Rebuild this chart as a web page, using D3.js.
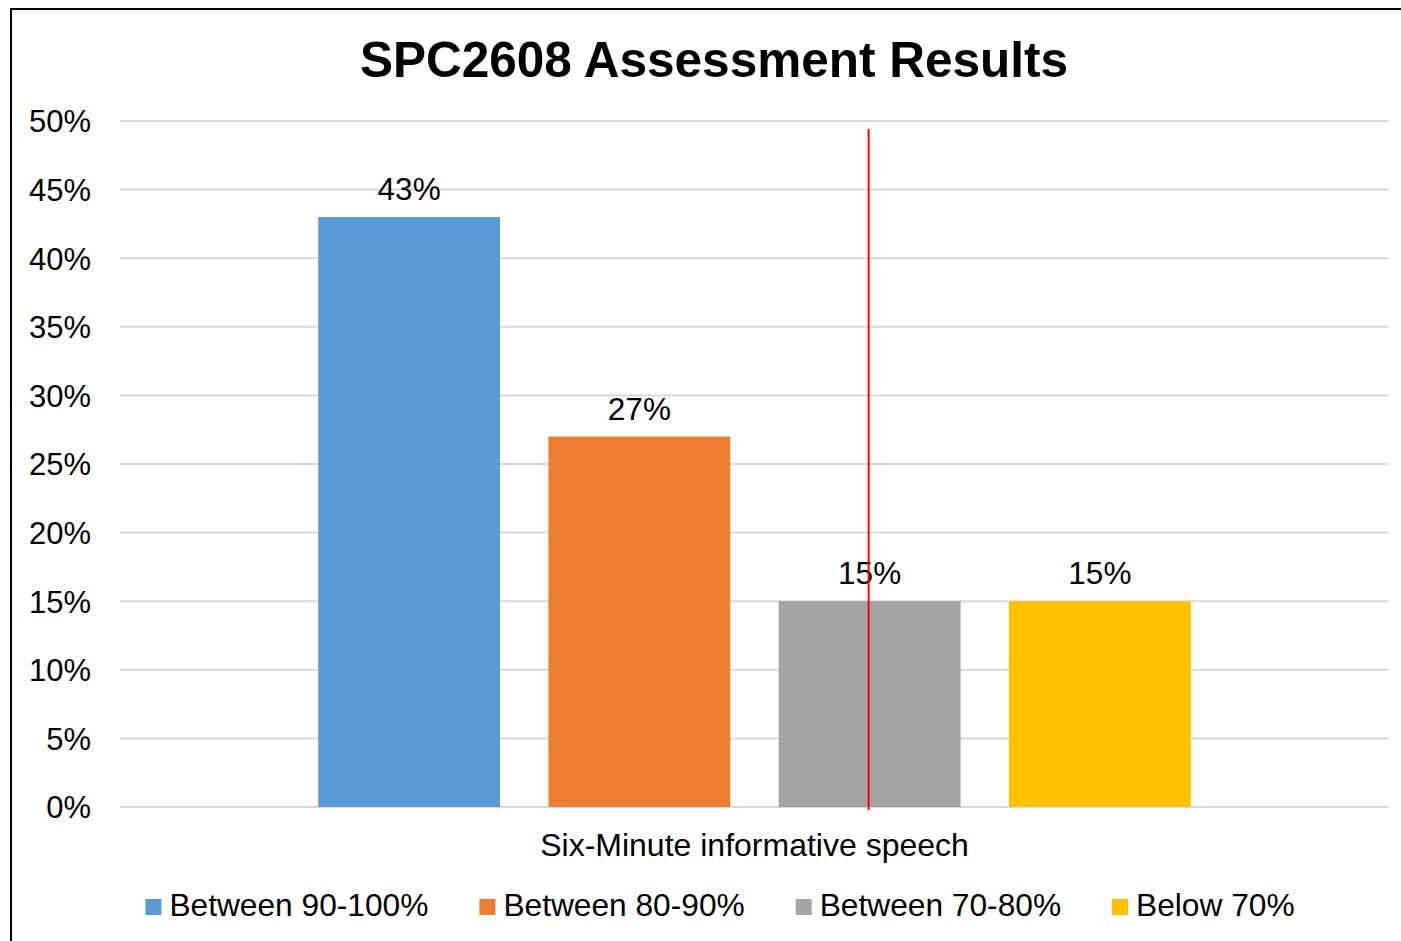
<!DOCTYPE html>
<html><head><meta charset="utf-8">
<script src="https://cdn.jsdelivr.net/npm/d3@7"></script>
<style>body{margin:0;background:#fff}svg{display:block}text{font-family:"Liberation Sans",Arial,sans-serif}</style>
</head><body>
<svg id="c" width="1401" height="941"></svg>
<script>
const title = "SPC2608 Assessment Results";
const category = "Six-Minute informative speech";
const seriesNames = ["Between 90-100%", "Between 80-90%", "Between 70-80%", "Below 70%"];
const seriesValues = [0.43, 0.27, 0.15, 0.15];
const seriesColors = ["#5B9BD5", "#ED7D31", "#A5A5A5", "#FFC000"];
const yTicks = [0, 0.05, 0.10, 0.15, 0.20, 0.25, 0.30, 0.35, 0.40, 0.45, 0.50];
const markerValue = 2; // red vertical line through the 3rd bar

const svg = d3.select("#c");
svg.append("rect").attr("x", 11).attr("y", 9).attr("width", 1400).attr("height", 940)
  .attr("fill", "#fff").attr("stroke", "#000").attr("stroke-width", 2);

const x0 = d3.scaleBand().domain([category]).range([120, 1389]);
const y = d3.scaleLinear().domain([0, 0.5]).range([807, 121]);
const x1 = d3.scaleBand().domain(seriesNames).range([318 - 24, 1191 + 24]).paddingInner(0.21).paddingOuter(0.105);

// gridlines
svg.append("g").selectAll("line").data(yTicks).join("line")
  .attr("x1", 120).attr("x2", 1389).attr("y1", d => y(d)).attr("y2", d => y(d))
  .attr("stroke", "#d9d9d9").attr("stroke-width", 2);

// y axis labels
const yAxis = d3.axisLeft(y).tickValues(yTicks).tickFormat(d3.format(".0%")).tickSize(0).tickPadding(0);
const ga = svg.append("g").attr("transform", "translate(91,0)").call(yAxis);
ga.select(".domain").remove();
ga.selectAll("text").attr("font-size", 31).attr("fill", "#000").attr("font-family", "Liberation Sans, Arial, sans-serif").attr("dy", "0.35em");

// bars
svg.append("g").selectAll("rect").data(seriesNames).join("rect")
  .attr("x", d => x1(d)).attr("width", x1.bandwidth())
  .attr("y", (d, i) => y(seriesValues[i])).attr("height", (d, i) => y(0) - y(seriesValues[i]))
  .attr("fill", (d, i) => seriesColors[i]);

// data labels
svg.append("g").selectAll("text").data(seriesNames).join("text")
  .attr("x", d => x1(d) + x1.bandwidth() / 2)
  .attr("y", (d, i) => y(seriesValues[i]) - 17)
  .attr("text-anchor", "middle").attr("font-size", 31.5).attr("fill", "#000")
  .text((d, i) => d3.format(".0%")(seriesValues[i]));

// red vertical line
const rx = x1(seriesNames[markerValue]) + x1.bandwidth() / 2 - 1;
svg.append("line").attr("x1", rx).attr("x2", rx).attr("y1", 129).attr("y2", 810)
  .attr("stroke", "#ff0000").attr("stroke-width", 2);

// category label
svg.append("text").attr("x", x0(category) + x0.bandwidth() / 2).attr("y", 856)
  .attr("text-anchor", "middle").attr("font-size", 32).attr("fill", "#000").text(category);

// title
svg.append("text").attr("x", 714).attr("y", 77).attr("text-anchor", "middle")
  .attr("font-size", 49.5).attr("font-weight", "bold").attr("fill", "#000").text(title);

// legend
const lg = svg.append("g");
const items = lg.selectAll("g").data(seriesNames).join("g");
items.append("rect").attr("width", 16).attr("height", 16).attr("y", -17).attr("fill", (d, i) => seriesColors[i]);
items.append("text").attr("x", 24).attr("y", 0).attr("font-size", 31.7).attr("fill", "#000").text(d => d);
let widths = [];
items.each(function () { widths.push(24 + this.querySelector("text").getComputedTextLength()); });
const gap = 51;
const total = d3.sum(widths) + gap * (widths.length - 1);
let cx = 720 - total / 2;
items.attr("transform", (d, i) => { const t = `translate(${cx},916)`; cx += widths[i] + gap; return t; });
</script>
</body></html>
